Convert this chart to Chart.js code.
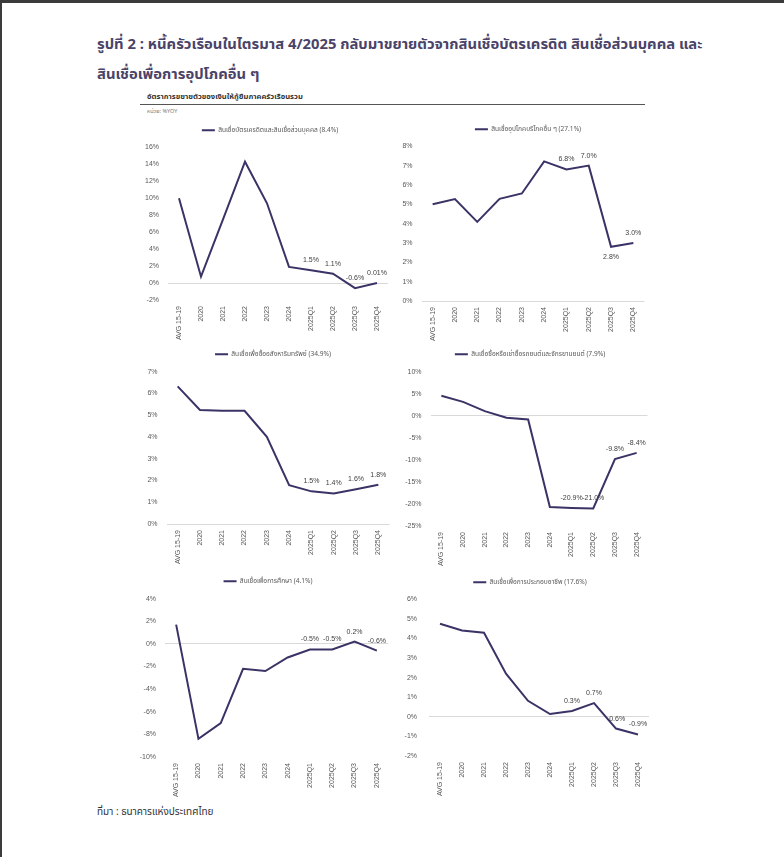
<!DOCTYPE html>
<html><head><meta charset="utf-8">
<script src="https://cdn.jsdelivr.net/npm/chart.js@4"></script>
<style>
html,body{margin:0;padding:0;background:#fff;}
body{width:784px;height:857px;position:relative;overflow:hidden;font-family:"Noto Sans Thai","Noto Sans","DejaVu Sans",sans-serif;}
.topbar{position:absolute;left:0;top:0;width:784px;height:3px;background:#3b3b3b;}
.leftbar{position:absolute;left:0;top:0;width:2px;height:857px;background:#3b3b3b;}
.title{position:absolute;left:97px;top:30px;font-size:14.8px;font-weight:700;color:#4a4368;line-height:30px;white-space:nowrap;}
.sub{position:absolute;left:147px;top:91px;font-size:7.6px;font-weight:700;color:#333;white-space:nowrap;}
.rule{position:absolute;left:140px;top:104px;width:505px;height:1px;background:#555;}
.unit{position:absolute;left:147px;top:107px;font-size:5.5px;color:#777;white-space:nowrap;}
.src{position:absolute;left:97px;top:804px;font-size:10px;color:#333;white-space:nowrap;}
canvas{position:absolute;}
</style></head>
<body>
<div class="topbar"></div><div class="leftbar"></div>
<div class="title">รูปที่ 2 : หนี้ครัวเรือนในไตรมาส 4/2025 กลับมาขยายตัวจากสินเชื่อบัตรเครดิต สินเชื่อส่วนบุคคล และ<br>สินเชื่อเพื่อการอุปโภคอื่น ๆ</div>
<div class="sub">อัตราการขยายตัวของเงินให้กู้ยืมภาคครัวเรือนรวม</div>
<div class="rule"></div>
<div class="unit">หน่วย: %YOY</div>
<div class="src">ที่มา : ธนาคารแห่งประเทศไทย</div>
<script>
// ---- data ----
const categories = ['AVG 15-19','2020','2021','2022','2023','2024','2025Q1','2025Q2','2025Q3','2025Q4'];
const creditCardPersonal = [10.0, 0.75, 7.5, 14.3, 9.4, 1.9, 1.5, 1.1, -0.6, 0.01];
const otherConsumption   = [5.0, 5.27, 4.09, 5.28, 5.56, 7.22, 6.8, 7.0, 2.8, 3.0];
const housing            = [6.32, 5.24, 5.2, 5.2, 4.0, 1.78, 1.5, 1.4, 1.6, 1.8];
const autoLoans          = [4.6, 3.2, 1.1, -0.4, -0.8, -20.7, -20.9, -21.0, -9.8, -8.4];
const education          = [1.7, -8.4, -7.0, -2.2, -2.4, -1.2, -0.5, -0.5, 0.2, -0.6];
const business           = [4.75, 4.41, 4.29, 2.2, 0.82, 0.14, 0.3, 0.7, -0.6, -0.9];
const seriesNames = [
  'สินเชื่อบัตรเครดิตและสินเชื่อส่วนบุคคล (8.4%)',
  'สินเชื่ออุปโภคบริโภคอื่น ๆ (27.1%)',
  'สินเชื่อเพื่อซื้ออสังหาริมทรัพย์ (34.9%)',
  'สินเชื่อซื้อหรือเช่าซื้อรถยนต์และจักรยานยนต์ (7.9%)',
  'สินเชื่อเพื่อการศึกษา (4.1%)',
  'สินเชื่อเพื่อการประกอบอาชีพ (17.6%)'
];
const labelledIdx = [6,7,8,9];

// ---- layout / style ----
const LINE = '#3a3366';
const TICKFONT = "'Liberation Sans Narrow','Liberation Sans',Arial,sans-serif";
const THAIFONT = "'Noto Sans Thai','Noto Sans','DejaVu Sans',sans-serif";
const panels = [
  {data:creditCardPersonal, name:seriesNames[0], min:-2, max:16, step:2, area:{l:168,r:388,t:147.7,b:300.3}, lx:270, tp:9, below:[]},
  {data:otherConsumption,   name:seriesNames[1], min:0, max:8, step:1,  area:{l:421.5,r:644.5,t:146.7,b:301}, lx:528, tp:9, below:[8]},
  {data:housing,            name:seriesNames[2], min:0, max:7, step:1,  area:{l:166.5,r:389.5,t:372,b:524.3}, lx:273, tp:9, below:[]},
  {data:autoLoans,          name:seriesNames[3], min:-25, max:10, step:5, area:{l:430.5,r:647.5,t:372.3,b:525.7}, lx:530, tp:9, below:[]},
  {data:education,          name:seriesNames[4], min:-10, max:4, step:2, area:{l:165,r:388,t:599,b:756.7}, lx:268, tp:9, below:[]},
  {data:business,           name:seriesNames[5], min:-2, max:6, step:1, area:{l:429,r:649,t:599.7,b:755.7}, lx:530, tp:12, below:[]}
];

function fmt(v){ return (Math.abs(v) < 0.1 && v !== 0 ? v.toFixed(2) : v.toFixed(1)) + '%'; }

const valueLabels = {
  id:'valueLabels',
  afterDatasetsDraw(chart, args, opts){
    const meta = chart.getDatasetMeta(0);
    const vals = chart.data.datasets[0].data;
    const ctx = chart.ctx;
    ctx.save();
    ctx.font = '7px ' + TICKFONT;
    ctx.fillStyle = '#404040';
    ctx.textAlign = 'center';
    ctx.textBaseline = 'middle';
    (opts.indices||[]).forEach(i => {
      const p = meta.data[i];
      const below = (opts.below||[]).includes(i);
      ctx.fillText(fmt(vals[i]), p.x, p.y + (below ? 10 : -10));
    });
    ctx.restore();
  }
};

panels.forEach(pn => {
  const a = pn.area;
  const left = Math.round(a.l - 34);
  const W = a.l - left;
  const width = Math.round(2*(pn.lx - left));
  const top = Math.round(a.t - 25);
  const G = a.t - top - 21;
  const H = 40;
  const height = Math.round(a.b + H - top);
  const pr = left + width - a.r;
  const cv = document.createElement('canvas');
  cv.width = width; cv.height = height;
  cv.style.left = left + 'px'; cv.style.top = top + 'px';
  cv.style.width = width + 'px'; cv.style.height = height + 'px';
  document.body.appendChild(cv);
  new Chart(cv, {
    type:'line',
    data:{ labels:categories, datasets:[{ label:pn.name, data:pn.data, borderColor:LINE, backgroundColor:LINE, borderWidth:2, pointRadius:0, tension:0, pointStyle:'line' }]},
    options:{
      responsive:false, animation:false, devicePixelRatio:1,
      layout:{ padding:0 },
      plugins:{
        legend:{ display:true, position:'top', labels:{ usePointStyle:true, pointStyle:'line', pointStyleWidth:13, boxHeight:7, padding:4, color:'#595959', font:{ size:6.6, family:THAIFONT } } },
        tooltip:{ enabled:false },
        valueLabels:{ indices:labelledIdx, below:pn.below }
      },
      scales:{
        x:{ type:'category', offset:true, grid:{ display:false, drawTicks:false }, border:{ display:false },
            ticks:{ autoSkip:false, minRotation:90, maxRotation:90, padding:6, color:'#595959', font:{ size:7, family:TICKFONT } },
            afterFit(s){ s.height = H; } },
        xTop:{ type:'category', position:'top', offset:true, grid:{ display:false, drawTicks:false }, border:{ display:false },
            ticks:{ display:false }, afterFit(s){ s.height = G; } },
        yRight:{ type:'linear', position:'right', min:pn.min, max:pn.max, grid:{ display:false, drawTicks:false }, border:{ display:false },
            ticks:{ display:false }, afterFit(s){ s.width = pr; } },
        y:{ min:pn.min, max:pn.max, border:{ display:false },
            grid:{ drawTicks:false, color:(c)=> (c.tick && c.tick.value === 0) ? '#d9d9d9' : 'rgba(0,0,0,0)', lineWidth:1 },
            ticks:{ stepSize:pn.step, padding:pn.tp, color:'#595959', font:{ size:7, family:TICKFONT }, callback:(v)=> v + '%' },
            afterFit(s){ s.width = W; } }
      }
    },
    plugins:[valueLabels]
  });
});
</script>
</body></html>
